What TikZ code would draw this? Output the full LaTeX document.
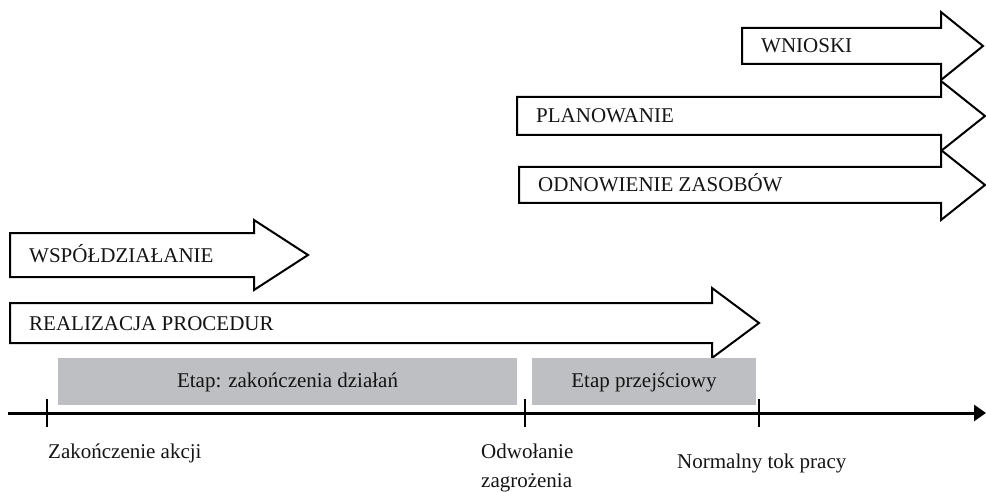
\documentclass[tikz,border=0pt]{standalone}
\usepackage{fontspec}
\setmainfont{Liberation Serif}
\usetikzlibrary{arrows.meta}

\definecolor{stagegray}{RGB}{190,191,195}
\definecolor{inkblack}{RGB}{20,20,20}

% Block arrow: #1 label node name, #2 left edge, #3 head base, #4 tip,
% #5 centre line, #6 half body height, #7 half head height, #8 label
\newcommand{\phasearrow}[8]{%
  \draw[arrowbox] (#2,#5-#6) -- (#3,#5-#6) -- (#3,#5-#7) -- (#4,#5)
    -- (#3,#5+#7) -- (#3,#5+#6) -- (#2,#5+#6) -- cycle;
  \node[lbl, anchor=base west] (#1) at (#2+19,#5+7) {#8};
}

\begin{document}
\begin{tikzpicture}[x=1pt, y=-1pt,
  lbl/.style={font=\fontsize{21pt}{29pt}\selectfont, text=inkblack, inner sep=0pt},
  arrowbox/.style={draw=black, line width=2pt, fill=white, miter limit=10},
  stagebox/.style={fill=stagegray, draw=none, inner sep=0pt,
    text height=15pt, text depth=4pt, font=\fontsize{21pt}{29pt}\selectfont, text=inkblack},
  axisline/.style={line width=3pt, -{Triangle[length=12pt, width=16pt]}},
  tickmark/.style={line width=2pt}]

\useasboundingbox (0,0) rectangle (986,492);

% phase arrows
\phasearrow{concl}{742}{941}{983}{46}{18}{34}{WNIOSKI}
\phasearrow{plan}{517}{941}{985}{116}{19}{35}{PLANOWANIE}
\phasearrow{renew}{519}{941}{985}{185}{18}{35}{ODNOWIENIE ZASOBÓW}
\phasearrow{coop}{10}{254}{308}{255}{22}{35}{WSPÓŁDZIAŁANIE}
\phasearrow{proc}{10}{712}{759}{323}{20}{35}{REALIZACJA PROCEDUR}

% stages
\node[stagebox, minimum width=459pt, minimum height=47pt] (stage1)
  at (287.5,381.5) {Etap: zakończenia działań};
\node[stagebox, minimum width=224pt, minimum height=47pt] (stage2)
  at (644,381.5) {Etap przejściowy};

% time axis
\coordinate (axstart) at (8,413);
\coordinate (axend) at (986,413);
\draw[axisline] (axstart) -- (axend);

\coordinate (m1) at (47,413);
\coordinate (m2) at (525,413);
\coordinate (m3) at (759,413);
\foreach \m in {m1,m2,m3}
  \draw[tickmark] ([yshift=14pt]\m) -- ([yshift=-14pt]\m);

% milestone labels
\node[lbl, anchor=base west] (end) at (48,458) {Zakończenie akcji};
\node[lbl, anchor=base west] (recall1) at (481,458) {Odwołanie};
\node[lbl, anchor=base west] (recall2) at (481,487) {zagrożenia};
\node[lbl, anchor=base west] (normal) at (677,468) {Normalny tok pracy};

\end{tikzpicture}
\end{document}
